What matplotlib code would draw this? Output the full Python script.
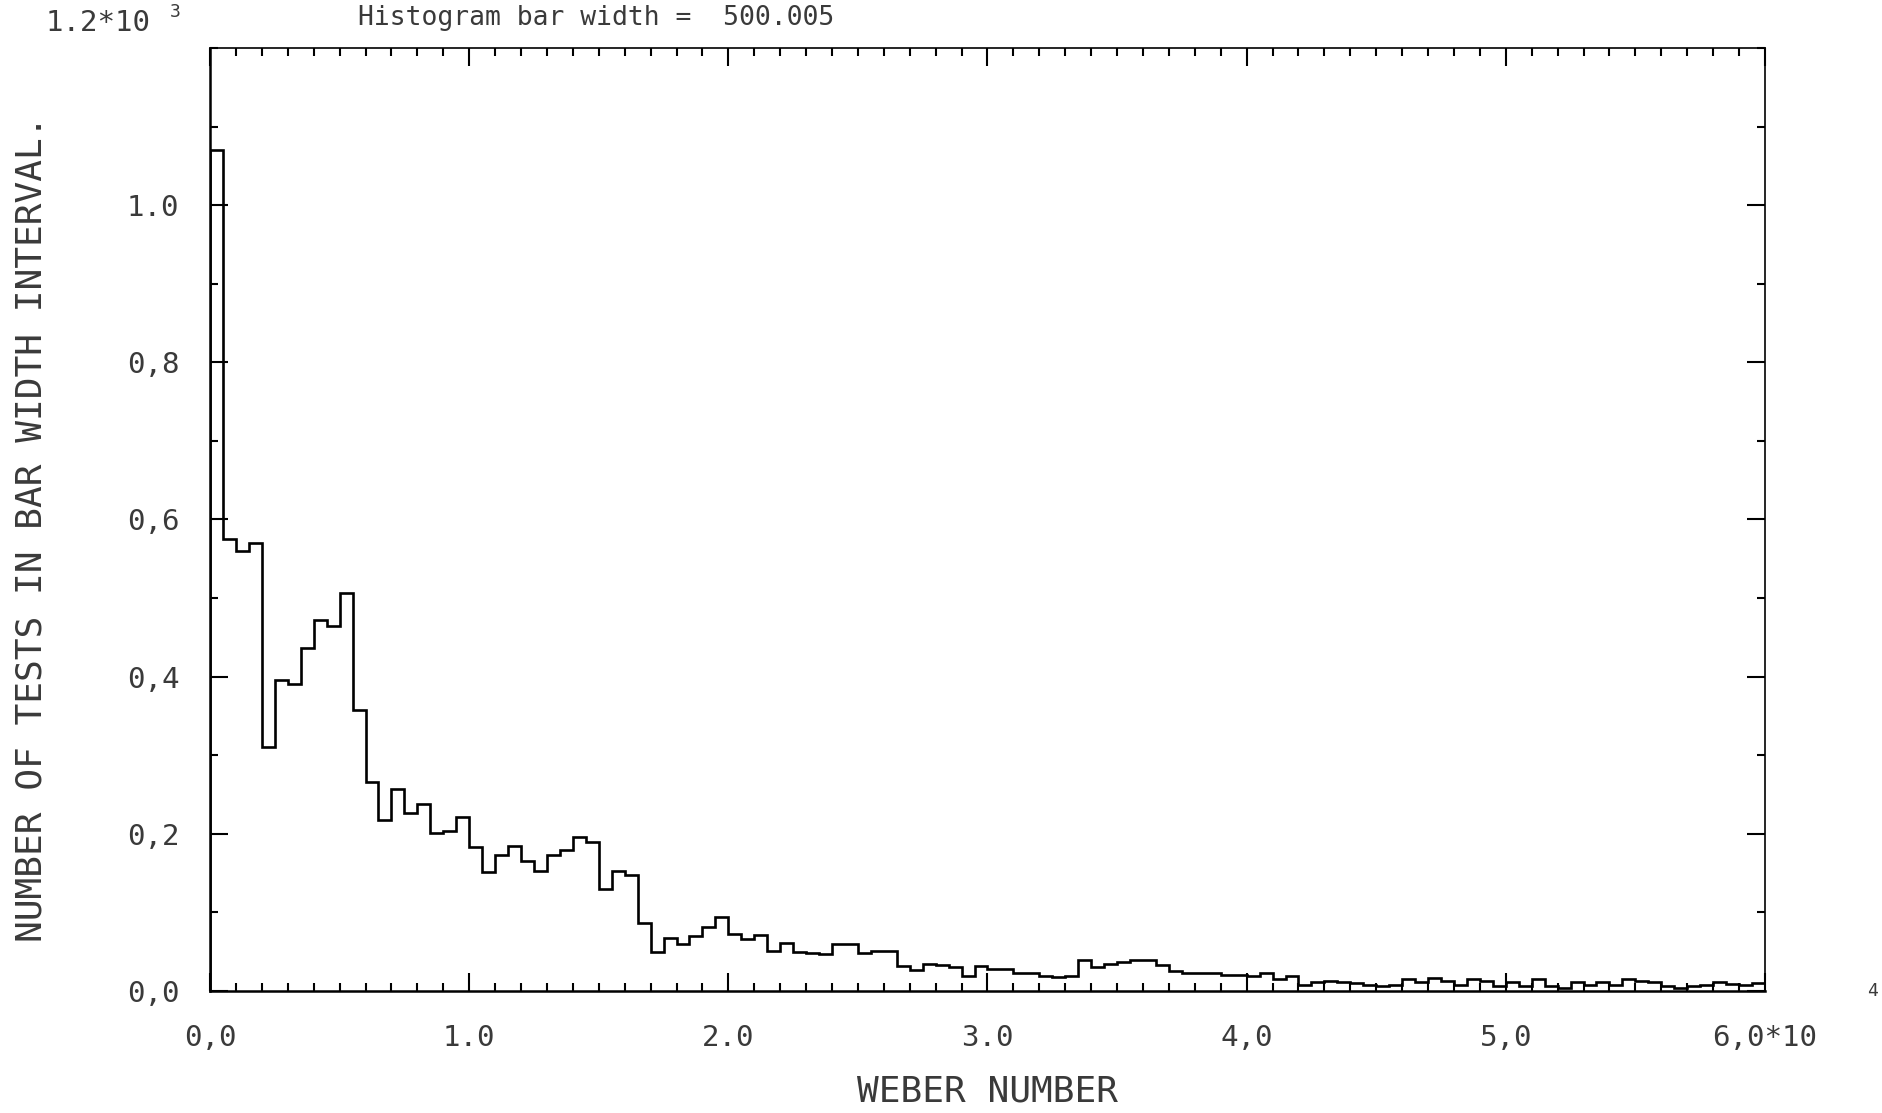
import numpy as np
import matplotlib
matplotlib.use("Agg")
import matplotlib.pyplot as plt
from matplotlib.ticker import MultipleLocator, FixedLocator

# histogram of weber numbers, bar width 500
bar_width = 500
weber_max = 60000
counts = [
    1070, 575, 560, 570, 310, 396, 391, 437, 472, 464,
    507, 357, 266, 217, 257, 227, 238, 201, 203, 222,
    183, 151, 173, 185, 166, 153, 173, 180, 196, 189,
    130, 153, 148, 86, 50, 68, 60, 70, 82, 94,
    72, 66, 71, 51, 61, 50, 48, 47, 60, 60,
    48, 51, 51, 32, 27, 34, 33, 30, 19, 32,
    28, 28, 23, 23, 19, 18, 19, 39, 30, 34,
    37, 40, 39, 33, 26, 23, 23, 23, 20, 21,
    19, 23, 15, 19, 8, 11, 13, 11, 10, 8,
    7, 8, 15, 11, 17, 13, 8, 15, 13, 6,
    11, 6, 15, 6, 4, 11, 8, 11, 8, 15,
    13, 11, 6, 4, 7, 8, 11, 9, 8, 10,
]
y_ticks = [0, 200, 400, 600, 800, 1000]
y_labels = ["0,0", "0,2", "0,4", "0,6", "0,8", "1.0"]
x_ticks = [0, 10000, 20000, 30000, 40000, 50000, 60000]
x_labels = ["0,0", "1.0", "2.0", "3.0", "4,0", "5,0", "6,0*10"]

edges = np.arange(0, weber_max + bar_width, bar_width)

mono = "DejaVu Sans Mono"
txt = "#3a3a3a"

fig = plt.figure(figsize=(18.82, 11.13), dpi=100)
ax = fig.add_axes([0.1116, 0.1096, 0.8262, 0.8473])

ax.stairs(counts, edges, color="black", linewidth=1.9, baseline=0)

ax.set_xlim(0, weber_max)
ax.set_ylim(0, 1200)

ax.xaxis.set_major_locator(FixedLocator(x_ticks))
ax.xaxis.set_minor_locator(MultipleLocator(1000))
ax.yaxis.set_major_locator(FixedLocator(y_ticks))
ax.yaxis.set_minor_locator(MultipleLocator(100))
ax.set_xticklabels(x_labels, fontfamily=mono, fontsize=21, color=txt)
ax.set_yticklabels(y_labels, fontfamily=mono, fontsize=21, color=txt)

ax.tick_params(which="both", direction="in", top=True, right=True, width=1.5, color="black")
ax.tick_params(which="major", length=13)
ax.tick_params(which="minor", length=6)
ax.tick_params(axis="x", pad=24)
ax.tick_params(axis="y", pad=22)

for s in ax.spines.values():
    s.set_linewidth(1.8)
ax.spines["top"].set_linewidth(1.2)
ax.spines["right"].set_linewidth(1.2)

ax.set_xlabel("WEBER NUMBER", fontfamily=mono, fontsize=26, color=txt)
ax.xaxis.set_label_coords(0.5, -0.088)
ax.set_ylabel("NUMBER OF TESTS IN BAR WIDTH INTERVAL.", fontfamily=mono, fontsize=26, color=txt)
ax.yaxis.set_label_coords(-0.104, 0.49)

# top y label and exponents
ax.text(-0.038, 1.027, "1.2*10", transform=ax.transAxes, ha="right", va="center",
        fontfamily=mono, fontsize=21, color=txt)
ax.text(-0.0225, 1.038, "3", transform=ax.transAxes, ha="center", va="center",
        fontfamily=mono, fontsize=13, color=txt)
ax.text(1.069, 0.0, "4", transform=ax.transAxes, ha="center", va="center",
        fontfamily=mono, fontsize=13, color=txt)
ax.text(0.248, 1.032, "Histogram bar width =  500.005", transform=ax.transAxes,
        ha="center", va="center", fontfamily=mono, fontsize=19, color=txt)

fig.savefig("out.png", dpi=100)
